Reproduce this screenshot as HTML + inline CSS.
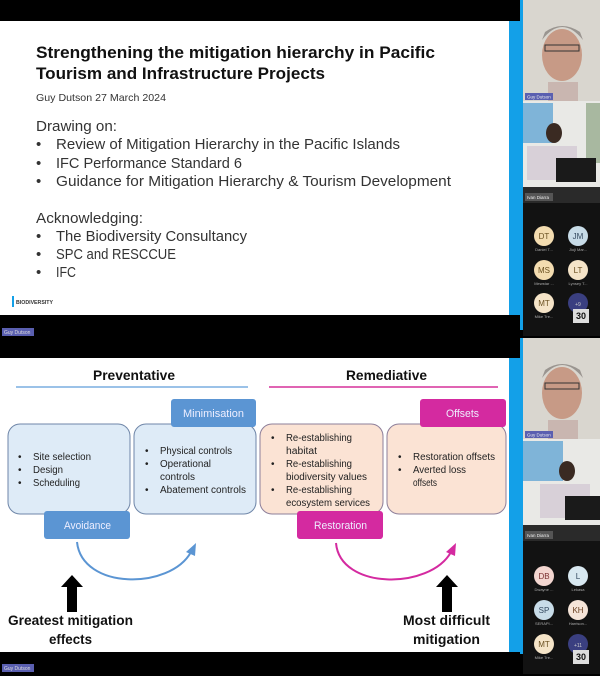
<!DOCTYPE html>
<html><head><meta charset="utf-8"><style>
html,body{margin:0;padding:0;background:#000;width:600px;height:676px;overflow:hidden}
svg{display:block}
text{font-family:"Liberation Sans",sans-serif}
</style></head><body>
<svg width="600" height="676" viewBox="0 0 600 676" xmlns="http://www.w3.org/2000/svg">
<rect width="600" height="676" fill="#000"/>
<!-- TOP SLIDE -->
<rect x="0" y="21" width="509" height="294" fill="#fff"/>
<rect x="509" y="21" width="14" height="294" fill="#13a0e8"/>
<g fill="#111">
<text x="36" y="58" font-size="17" font-weight="bold" textLength="399" lengthAdjust="spacingAndGlyphs">Strengthening the mitigation hierarchy in Pacific</text>
<text x="36" y="79" font-size="17" font-weight="bold" textLength="289" lengthAdjust="spacingAndGlyphs">Tourism and Infrastructure Projects</text>
</g>
<g fill="#333">
<text x="36" y="101" font-size="10.5" textLength="130" lengthAdjust="spacingAndGlyphs">Guy Dutson 27 March 2024</text>
<text x="36" y="131" font-size="15" textLength="81" lengthAdjust="spacingAndGlyphs">Drawing on:</text>
<text x="36" y="149" font-size="15">•</text><text x="56" y="149" font-size="15" textLength="344" lengthAdjust="spacingAndGlyphs">Review of Mitigation Hierarchy in the Pacific Islands</text>
<text x="36" y="168" font-size="15">•</text><text x="56" y="168" font-size="15" textLength="186" lengthAdjust="spacingAndGlyphs">IFC Performance Standard 6</text>
<text x="36" y="186" font-size="15">•</text><text x="56" y="186" font-size="15" textLength="395" lengthAdjust="spacingAndGlyphs">Guidance for Mitigation Hierarchy &amp; Tourism Development</text>
<text x="36" y="223" font-size="15" textLength="107" lengthAdjust="spacingAndGlyphs">Acknowledging:</text>
<text x="36" y="241" font-size="15">•</text><text x="56" y="241" font-size="15" textLength="191" lengthAdjust="spacingAndGlyphs">The Biodiversity Consultancy</text>
<text x="36" y="259" font-size="15">•</text><text x="56" y="259" font-size="15" textLength="120" lengthAdjust="spacingAndGlyphs">SPC and RESCCUE</text>
<text x="36" y="277" font-size="15">•</text><text x="56" y="277" font-size="15" textLength="20" lengthAdjust="spacingAndGlyphs">IFC</text>
</g>
<rect x="12" y="296" width="2" height="11" fill="#13a0e8"/>
<text x="16" y="304" font-size="5.5" font-weight="bold" fill="#333" textLength="37" lengthAdjust="spacingAndGlyphs">BIODIVERSITY</text>
<rect x="2" y="328" width="32" height="8" fill="#5a5fb0"/>
<text x="4" y="334" font-size="5" fill="#ddd">Guy Dutson</text>

<!-- BOTTOM SLIDE -->
<rect x="0" y="358" width="509" height="294" fill="#fff"/>
<rect x="509" y="358" width="14" height="294" fill="#13a0e8"/>
<text x="93" y="380" font-size="14" font-weight="bold" fill="#111" textLength="82" lengthAdjust="spacingAndGlyphs">Preventative</text>
<text x="346" y="380" font-size="14" font-weight="bold" fill="#111" textLength="81" lengthAdjust="spacingAndGlyphs">Remediative</text>
<line x1="16" y1="387" x2="248" y2="387" stroke="#7aaee0" stroke-width="1.5"/>
<line x1="269" y1="387" x2="498" y2="387" stroke="#d6309a" stroke-width="1.5"/>
<rect x="8" y="424" width="122" height="90" rx="12" fill="#deebf7" stroke="#6f86a8" stroke-width="1"/>
<rect x="134" y="424" width="122" height="90" rx="12" fill="#deebf7" stroke="#6f86a8" stroke-width="1"/>
<rect x="260" y="424" width="123" height="90" rx="12" fill="#fbe3d4" stroke="#8e7f9a" stroke-width="1"/>
<rect x="387" y="424" width="119" height="90" rx="12" fill="#fbe3d4" stroke="#8e7f9a" stroke-width="1"/>
<rect x="171" y="399" width="85" height="28" rx="3" fill="#5b95d3"/>
<rect x="44" y="511" width="86" height="28" rx="3" fill="#5b95d3"/>
<rect x="297" y="511" width="86" height="28" rx="3" fill="#d42aa0"/>
<rect x="420" y="399" width="86" height="28" rx="3" fill="#d42aa0"/>
<g fill="#eef" font-size="11">
<text x="183" y="417" textLength="61" lengthAdjust="spacingAndGlyphs">Minimisation</text>
<text x="64" y="529" textLength="47" lengthAdjust="spacingAndGlyphs">Avoidance</text>
<text x="314" y="529" textLength="53" lengthAdjust="spacingAndGlyphs">Restoration</text>
<text x="446" y="417" textLength="33" lengthAdjust="spacingAndGlyphs">Offsets</text>
</g>
<g fill="#222" font-size="10">
<text x="18" y="460">•</text><text x="33" y="460" textLength="58" lengthAdjust="spacingAndGlyphs">Site selection</text>
<text x="18" y="473">•</text><text x="33" y="473" textLength="30" lengthAdjust="spacingAndGlyphs">Design</text>
<text x="18" y="486">•</text><text x="33" y="486" textLength="47" lengthAdjust="spacingAndGlyphs">Scheduling</text>
<text x="145" y="454">•</text><text x="160" y="454" textLength="72" lengthAdjust="spacingAndGlyphs">Physical controls</text>
<text x="145" y="467">•</text><text x="160" y="467" textLength="51" lengthAdjust="spacingAndGlyphs">Operational</text>
<text x="160" y="480" textLength="35" lengthAdjust="spacingAndGlyphs">controls</text>
<text x="145" y="493">•</text><text x="160" y="493" textLength="86" lengthAdjust="spacingAndGlyphs">Abatement controls</text>
<text x="271" y="441">•</text><text x="286" y="441" textLength="66" lengthAdjust="spacingAndGlyphs">Re-establishing</text>
<text x="286" y="454" textLength="31" lengthAdjust="spacingAndGlyphs">habitat</text>
<text x="271" y="467">•</text><text x="286" y="467" textLength="66" lengthAdjust="spacingAndGlyphs">Re-establishing</text>
<text x="286" y="480" textLength="81" lengthAdjust="spacingAndGlyphs">biodiversity values</text>
<text x="271" y="493">•</text><text x="286" y="493" textLength="66" lengthAdjust="spacingAndGlyphs">Re-establishing</text>
<text x="286" y="506" textLength="84" lengthAdjust="spacingAndGlyphs">ecosystem services</text>
<text x="398" y="460">•</text><text x="413" y="460" textLength="82" lengthAdjust="spacingAndGlyphs">Restoration offsets</text>
<text x="398" y="473">•</text><text x="413" y="473" textLength="53" lengthAdjust="spacingAndGlyphs">Averted loss</text>
<text x="413" y="486" textLength="24" lengthAdjust="spacingAndGlyphs">offsets</text>
</g>
<path d="M77,542 C82,590 170,590 191,552" fill="none" stroke="#5b95d3" stroke-width="2"/>
<polygon points="196,543 186,552 195,556" fill="#5b95d3"/>
<path d="M336,543 C340,590 430,590 451,552" fill="none" stroke="#d42aa0" stroke-width="2"/>
<polygon points="456,543 446,552 455,556" fill="#d42aa0"/>
<polygon points="72,575 83,587 77,587 77,612 67,612 67,587 61,587" fill="#000"/>
<polygon points="447,575 458,587 452,587 452,612 442,612 442,587 436,587" fill="#000"/>
<g fill="#111" font-size="14" font-weight="bold">
<text x="8" y="625" textLength="125" lengthAdjust="spacingAndGlyphs">Greatest mitigation</text>
<text x="49" y="644" textLength="43" lengthAdjust="spacingAndGlyphs">effects</text>
<text x="403" y="625" textLength="87" lengthAdjust="spacingAndGlyphs">Most difficult</text>
<text x="413" y="644" textLength="67" lengthAdjust="spacingAndGlyphs">mitigation</text>
</g>
<rect x="2" y="664" width="32" height="8" fill="#5a5fb0"/>
<text x="4" y="670" font-size="5" fill="#ddd">Guy Dutson</text>

<!-- RIGHT PANELS -->
<g id="panel">
<rect x="523" y="0" width="77" height="336" fill="#121212"/>
<rect x="523" y="0" width="77" height="101" fill="#d9d6cf"/>
<ellipse cx="562" cy="55" rx="20" ry="26" fill="#c79a86"/>
<path d="M542,40 Q562,14 583,40 L580,32 Q562,20 545,32 Z" fill="#9a9590"/>
<rect x="545" y="45" width="34" height="6" fill="none" stroke="#333" stroke-width="1"/>
<rect x="548" y="82" width="30" height="19" fill="#c9b6b0"/>
<rect x="525" y="93" width="28" height="7" fill="#5a5fb0"/>
<text x="527" y="98.5" font-size="4.5" fill="#eee">Guy Dutson</text>
<rect x="523" y="101" width="77" height="86" fill="#e9e9e6"/>
<rect x="523" y="103" width="30" height="40" fill="#7fb4d8"/>
<rect x="586" y="103" width="14" height="60" fill="#a8b8a0"/>
<ellipse cx="554" cy="133" rx="8" ry="10" fill="#3a2a22"/>
<rect x="527" y="146" width="50" height="34" fill="#d8d0d8"/>
<rect x="556" y="158" width="40" height="24" fill="#1a1a1a"/>
<rect x="523" y="187" width="77" height="16" fill="#2a2a2a"/>
<rect x="525" y="193" width="28" height="8" fill="#555"/>
<text x="527" y="199" font-size="4.5" fill="#eee">Ivan Diarra</text>
</g>
<g font-size="8" text-anchor="middle">
<circle cx="544" cy="236" r="10" fill="#f3dcb0"/><text x="544" y="239" fill="#6a5020">DT</text>
<circle cx="578" cy="236" r="10" fill="#c8dce8"/><text x="578" y="239" fill="#354a60">JM</text>
<circle cx="544" cy="270" r="10" fill="#f3dcb0"/><text x="544" y="273" fill="#6a5020">MS</text>
<circle cx="578" cy="270" r="10" fill="#f5e4c8"/><text x="578" y="273" fill="#6a5020">LT</text>
<circle cx="544" cy="303" r="10" fill="#f5e4c8"/><text x="544" y="306" fill="#6a5020">MT</text>
<circle cx="578" cy="303" r="10" fill="#3a3f80"/><text x="578" y="306" fill="#ccc" font-size="5">+9</text>
</g>
<g font-size="4" fill="#aaa" text-anchor="middle">
<text x="544" y="251">Daniel T...</text><text x="578" y="251">Jioji Mar...</text>
<text x="544" y="285">Mewstar ...</text><text x="578" y="285">Lynsey T...</text>
<text x="544" y="318">Mike Tre...</text>
</g>
<rect x="573" y="309" width="16" height="14" fill="#ddd"/><text x="581" y="319" font-size="9" font-weight="bold" text-anchor="middle" fill="#111">30</text>

<g transform="translate(0,338)">
<rect x="523" y="0" width="77" height="336" fill="#121212"/>
<rect x="523" y="0" width="77" height="101" fill="#d9d6cf"/>
<ellipse cx="562" cy="55" rx="20" ry="26" fill="#c79a86"/>
<path d="M542,40 Q562,14 583,40 L580,32 Q562,20 545,32 Z" fill="#9a9590"/>
<rect x="545" y="45" width="34" height="6" fill="none" stroke="#333" stroke-width="1"/>
<rect x="548" y="82" width="30" height="19" fill="#c9b6b0"/>
<rect x="525" y="93" width="28" height="7" fill="#5a5fb0"/>
<text x="527" y="98.5" font-size="4.5" fill="#eee">Guy Dutson</text>
<rect x="523" y="101" width="77" height="86" fill="#e9e9e6"/>
<rect x="523" y="103" width="40" height="40" fill="#7fb4d8"/>
<ellipse cx="567" cy="133" rx="8" ry="10" fill="#3a2a22"/>
<rect x="540" y="146" width="50" height="34" fill="#d8d0d8"/>
<rect x="565" y="158" width="35" height="24" fill="#1a1a1a"/>
<rect x="523" y="187" width="77" height="16" fill="#2a2a2a"/>
<rect x="525" y="193" width="28" height="8" fill="#555"/>
<text x="527" y="199" font-size="4.5" fill="#eee">Ivan Diarra</text>
<g font-size="8" text-anchor="middle">
<circle cx="544" cy="238" r="10" fill="#f3d6d0"/><text x="544" y="241" fill="#7a3030">DB</text>
<circle cx="578" cy="238" r="10" fill="#d8e8f0"/><text x="578" y="241" fill="#354a60">L</text>
<circle cx="544" cy="272" r="10" fill="#c8dce8"/><text x="544" y="275" fill="#354a60">SP</text>
<circle cx="578" cy="272" r="10" fill="#f5e4d8"/><text x="578" y="275" fill="#6a4020">KH</text>
<circle cx="544" cy="306" r="10" fill="#f5e4c8"/><text x="544" y="309" fill="#6a5020">MT</text>
<circle cx="578" cy="306" r="10" fill="#3a3f80"/><text x="578" y="309" fill="#ccc" font-size="5">+11</text>
</g>
<g font-size="4" fill="#aaa" text-anchor="middle">
<text x="544" y="253">Dwayne ...</text><text x="578" y="253">Lekasa</text>
<text x="544" y="287">SERAPI...</text><text x="578" y="287">Harrison...</text>
<text x="544" y="321">Mike Tre...</text>
</g>
<rect x="573" y="312" width="16" height="14" fill="#ddd"/><text x="581" y="322" font-size="9" font-weight="bold" text-anchor="middle" fill="#111">30</text>
</g>
<rect x="520" y="0" width="3" height="330" fill="#13a0e8"/>
<rect x="520" y="338" width="3" height="316" fill="#13a0e8"/>
</svg>
</body></html>
